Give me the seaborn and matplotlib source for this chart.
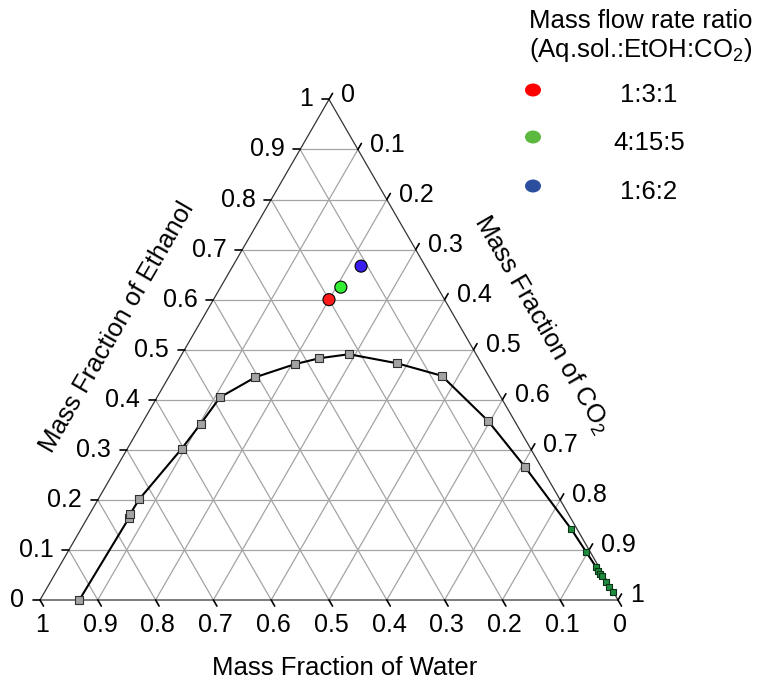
import numpy as np
import pandas as pd
import matplotlib
matplotlib.use("Agg")
import matplotlib.pyplot as plt
from matplotlib.patches import Ellipse
import seaborn as sns

# ---------------- data ----------------
# operating points (mass fractions)
ratio_labels = ["1:3:1", "4:15:5", "1:6:2"]
op_water = [0.200, 0.167, 0.111]
op_ethanol = [0.600, 0.625, 0.667]
op_co2 = [0.200, 0.208, 0.222]
op_colors = ["#ff1a1a", "#33ee33", "#3a1ef0"]
legend_colors = ["#ff0000", "#5cb83f", "#2b4f9e"]

# binodal curve (ethanol, CO2 mass fractions); water = 1 - ethanol - CO2
curve_ethanol = [0.000, 0.164, 0.171, 0.201, 0.302, 0.352, 0.405, 0.445,
                 0.471, 0.483, 0.491, 0.473, 0.448, 0.358, 0.266,
                 0.141, 0.095, 0.065, 0.058, 0.051, 0.047, 0.035, 0.025, 0.015]
curve_co2 = [0.068, 0.072, 0.070, 0.071, 0.094, 0.102, 0.109, 0.150,
             0.205, 0.242, 0.289, 0.381, 0.471, 0.596, 0.706,
             0.849, 0.898, 0.930, 0.937, 0.943, 0.949, 0.962, 0.972, 0.983]
curve_phase = ["aq"] * 15 + ["co2"] * 9

tick_values = [0.0, 0.1, 0.2, 0.3, 0.4, 0.5, 0.6, 0.7, 0.8, 0.9, 1.0]
tick_labels = ["0", "0.1", "0.2", "0.3", "0.4", "0.5", "0.6", "0.7", "0.8", "0.9", "1"]

# ---------------- style ----------------
sns.set_style("white")
plt.rcParams["font.family"] = ["Liberation Sans", "DejaVu Sans"]
plt.rcParams["mathtext.fontset"] = "custom"
plt.rcParams["mathtext.rm"] = "Liberation Sans"
plt.rcParams["mathtext.default"] = "regular"
plt.rcParams["text.color"] = "black"

H = np.sqrt(3) / 2


def tern(eth, co2):
    eth = np.asarray(eth, dtype=float)
    co2 = np.asarray(co2, dtype=float)
    return co2 + eth / 2.0, eth * H


fig = plt.figure(figsize=(7.57, 6.83), dpi=100)
ax = fig.add_axes([0, 0, 1, 1])
S = 578.0
ax.set_xlim(-40 / S, 717 / S)
ax.set_ylim(-83 / S, 600 / S)
ax.axis("off")

grid_c = "#a4a4a4"
edge_c = "#333333"
# grid lines
for v in tick_values[1:-1]:
    # ethanol constant
    x0, y0 = tern(v, 0)
    x1, y1 = tern(v, 1 - v)
    ax.plot([x0, x1], [y0, y1], color=grid_c, lw=0.9, zorder=1)
    # co2 constant
    x0, y0 = tern(0, v)
    x1, y1 = tern(1 - v, v)
    ax.plot([x0, x1], [y0, y1], color=grid_c, lw=0.9, zorder=1)
    # water constant
    x0, y0 = tern(0, 1 - v)
    x1, y1 = tern(1 - v, 0)
    ax.plot([x0, x1], [y0, y1], color=grid_c, lw=0.9, zorder=1)

# triangle
tx, ty = tern([0, 0, 1, 0], [0, 1, 0, 0])
ax.plot(tx, ty, color=edge_c, lw=0.9, zorder=2)

# ticks + labels
t = 7 / S
fs_tick = 18
for v, lab in zip(tick_values, tick_labels):
    # left (ethanol)
    x, y = tern(v, 0)
    ax.plot([x, x - t], [y, y], color="black", lw=1.2, zorder=2)
    ax.text(x - 0.027, y, lab, ha="right", va="center", fontsize=fs_tick)
    # right (CO2)
    x, y = tern(1 - v, v)
    ax.plot([x, x + t * 0.5], [y, y + t * H], color="black", lw=1.2, zorder=2)
    ax.text(x + 0.021, y + 0.008, lab, ha="left", va="center", fontsize=fs_tick)
    # bottom (water)
    x, y = tern(0, 1 - v)
    ax.plot([x, x + t * 0.5], [y, y - t * H], color="black", lw=1.2, zorder=2)
    ax.text(x + 0.004, -0.043, lab, ha="center", va="center", fontsize=fs_tick)

# binodal curve
cx, cy = tern(curve_ethanol, curve_co2)
curve = pd.DataFrame({"x": cx, "y": cy, "phase": curve_phase})
sns.lineplot(data=curve, x="x", y="y", sort=False, estimator=None,
             color="black", lw=1.5, ax=ax, zorder=3)
sns.scatterplot(data=curve[curve.phase == "aq"], x="x", y="y", marker="s",
                s=28, color="#a3a3a3", edgecolor="#303030", linewidth=0.8,
                ax=ax, zorder=4)
sns.scatterplot(data=curve[curve.phase == "co2"], x="x", y="y", marker="s",
                s=22, color="#1e8c3c", edgecolor="#0b3318", linewidth=0.8,
                ax=ax, zorder=4)

# operating points
px, py = tern(op_ethanol, op_co2)
ops = pd.DataFrame({"x": px, "y": py, "ratio": ratio_labels})
sns.scatterplot(data=ops, x="x", y="y", hue="ratio", palette=op_colors,
                s=75, edgecolor="black", linewidth=0.8, legend=False,
                ax=ax, zorder=5)

# axis titles
fs_title = 18.5
ax.text((345 - 40) / S, (600 - 668) / S, "Mass Fraction of Water",
        ha="center", va="center", fontsize=fs_title)
ax.text((117 - 40) / S, (600 - 327) / S, "Mass Fraction of Ethanol",
        ha="center", va="center", rotation=60, rotation_mode="anchor",
        fontsize=fs_title)
ax.text((542 - 40) / S, (600 - 324) / S, "Mass Fraction of CO$_2$",
        ha="center", va="center", rotation=-60, rotation_mode="anchor",
        fontsize=fs_title)


# legend (manual)
def dc(pxx, pyy):
    return (pxx - 40) / S, (600 - pyy) / S


ax.text(*dc(641, 28), "Mass flow rate ratio", ha="center", va="baseline",
        fontsize=fs_title)
ax.text(*dc(641, 57), "(Aq.sol.:EtOH:CO$_2$)", ha="center", va="baseline",
        fontsize=fs_title)
leg_y = [90, 137, 186]
leg_base = [102, 150, 199]
for lab, col, my, by in zip(ratio_labels, legend_colors, leg_y, leg_base):
    ax.add_patch(Ellipse(dc(533, my), 16 / S, 13 / S, color=col, lw=0, zorder=5))
    ax.text(*dc(649, by), lab, ha="center", va="baseline", fontsize=fs_title)

fig.savefig("out.png", dpi=100)
